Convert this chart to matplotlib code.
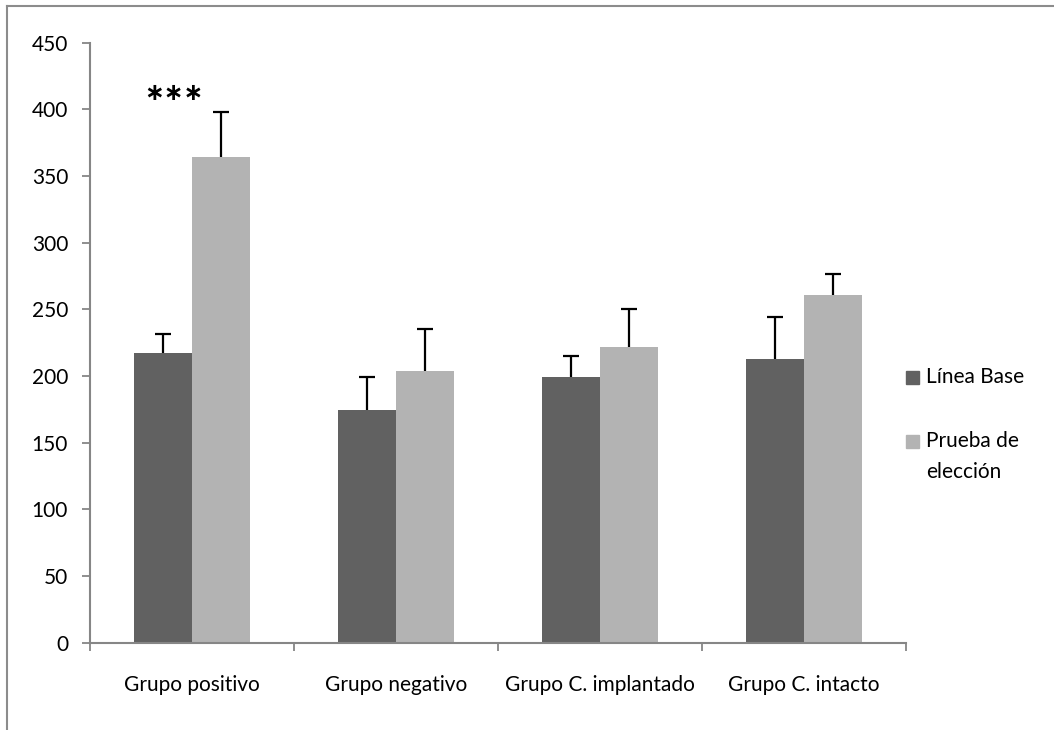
import numpy as np
import matplotlib.pyplot as plt
from matplotlib.patches import Rectangle
from matplotlib.lines import Line2D

grupos = ['Grupo positivo', 'Grupo negativo', 'Grupo C. implantado', 'Grupo C. intacto']
linea_base = [217, 174.5, 199, 213]
linea_base_err = [14.5, 25, 16, 31]
prueba = [364, 203.5, 222, 261]
prueba_err = [34, 31.5, 28, 15.5]
yticks = [0, 50, 100, 150, 200, 250, 300, 350, 400, 450]

W, H = 1054, 730
dark = '#616161'
light = '#b3b3b3'
axcol = '#868686'
fs = 15

plt.rcParams['font.family'] = ['Lato', 'DejaVu Sans']

fig = plt.figure(figsize=(W / 100, H / 100), dpi=100)
ax = fig.add_axes([90 / W, 1 - 642.7 / H, (906 - 90) / W, 600 / H])

x = np.arange(len(grupos))
bw = 0.284
ax.bar(x - bw / 2, linea_base, bw, color=dark, label='Línea Base')
ax.bar(x + bw / 2, prueba, bw, color=light, label='Prueba de elección')
ekw = dict(fmt='none', ecolor='black', elinewidth=1.6, capsize=5.5, capthick=1.6)
for xs, vals, errs in [(x - bw / 2, linea_base, linea_base_err), (x + bw / 2, prueba, prueba_err)]:
    eb = ax.errorbar(xs, vals, yerr=[np.zeros(len(vals)), errs], **ekw)
    eb[1][0].set_visible(False)  # solo el cap de arriba

# asteriscos de significancia
ax.text(-0.088, 412, '∗∗∗', ha='center', va='center', fontsize=17,
        family='DejaVu Sans', fontweight='bold')

ax.set_xlim(-0.5, len(grupos) - 0.5)
ax.set_ylim(0, 450)
ax.set_yticks(yticks)
ax.set_xticks(x)
ax.set_xticklabels(grupos)
ax.set_xticks(np.arange(len(grupos) + 1) - 0.5, minor=True)
ax.tick_params(axis='x', which='major', length=0, pad=23, labelsize=fs)
ax.tick_params(axis='x', which='minor', length=5.8, width=1.3, color=axcol, direction='out')
ax.tick_params(axis='y', length=5.8, width=1.3, color=axcol, pad=10, labelsize=fs)

for s in ['top', 'right']:
    ax.spines[s].set_visible(False)
for s in ['left', 'bottom']:
    ax.spines[s].set_color(axcol)
    ax.spines[s].set_linewidth(1.5)

# leyenda
for yc, col in [(377, dark), (441, light)]:
    fig.add_artist(Rectangle((906 / W, 1 - (yc + 6.5) / H), 13 / W, 13 / H,
                             color=col, transform=fig.transFigure))
fig.text(926 / W, 1 - 377 / H, 'Línea Base', va='center', fontsize=fs)
fig.text(926 / W, 1 - 441 / H, 'Prueba de', va='center', fontsize=fs)
fig.text(926 / W, 1 - 472 / H, 'elección', va='center', fontsize=fs)

# borde del grafico
fig.add_artist(Line2D([7 / W, 7 / W], [0, 1 - 5.5 / H], color='#8c8c8c', lw=1.5))
fig.add_artist(Line2D([7 / W, 1], [1 - 5.5 / H, 1 - 5.5 / H], color='#8c8c8c', lw=1.5))

fig.savefig('out.png', dpi=100)
